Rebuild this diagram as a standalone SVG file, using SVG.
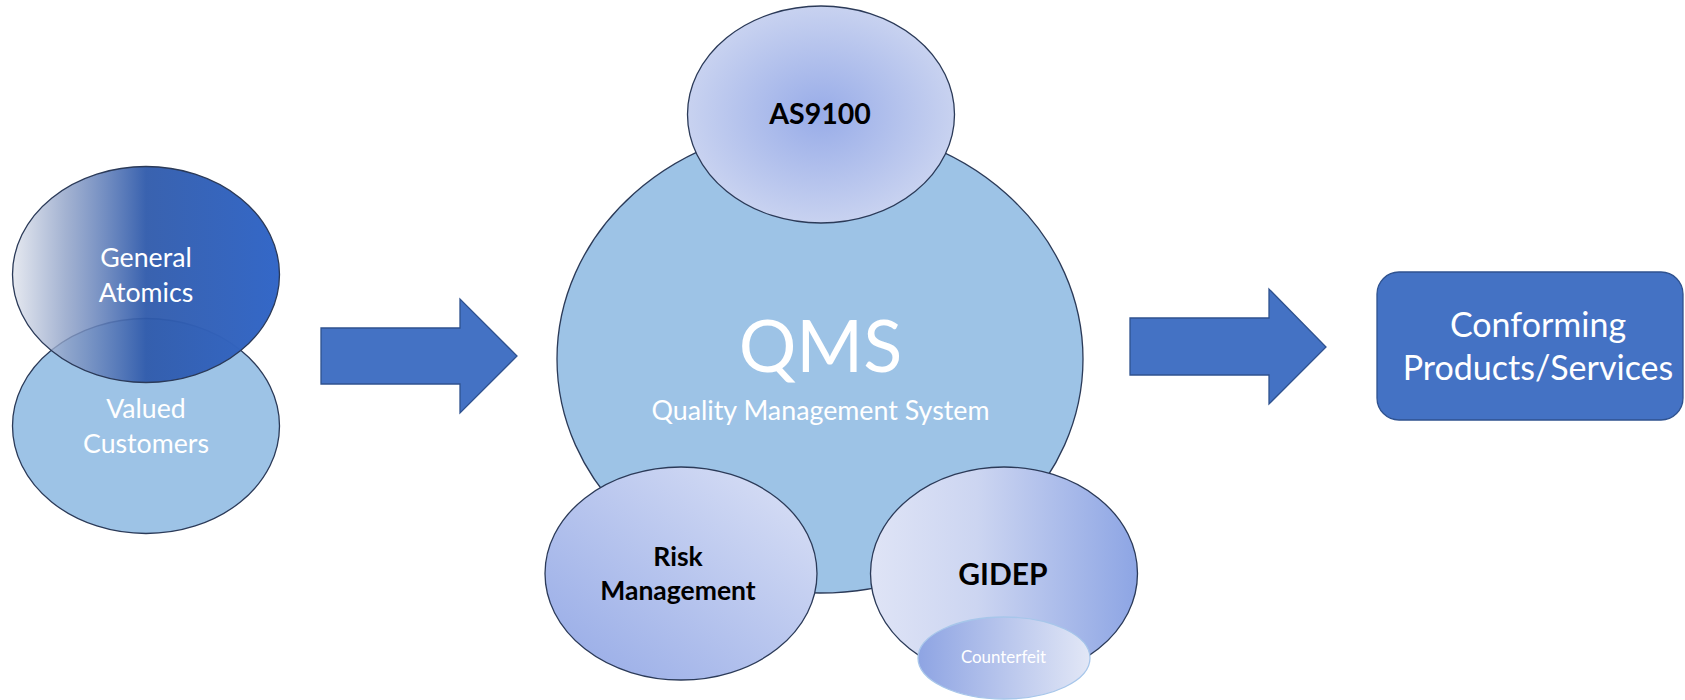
<svg xmlns="http://www.w3.org/2000/svg" width="1685" height="700" viewBox="0 0 1685 700">
<defs>
<linearGradient id="gGA" x1="0" y1="0" x2="1" y2="0">
<stop offset="0" stop-color="#dfe3ec" stop-opacity="0.8"/>
<stop offset="0.2" stop-color="#8c9fc6" stop-opacity="0.8"/>
<stop offset="0.5" stop-color="#2f5aab" stop-opacity="0.95"/>
<stop offset="1" stop-color="#3468c8"/>
</linearGradient>
<radialGradient id="gAS" cx="0.5" cy="0.5" r="0.5">
<stop offset="0" stop-color="#98ace8"/>
<stop offset="1" stop-color="#c8d2f0"/>
</radialGradient>
<linearGradient id="gRisk" x1="0" y1="1" x2="1" y2="0">
<stop offset="0" stop-color="#94a9e6"/>
<stop offset="1" stop-color="#dce2f6"/>
</linearGradient>
<linearGradient id="gGID" x1="0" y1="0" x2="1" y2="0">
<stop offset="0" stop-color="#dfe4f6"/>
<stop offset="0.4" stop-color="#ccd5f1"/>
<stop offset="1" stop-color="#8da5e4"/>
</linearGradient>
<linearGradient id="gCF" x1="0" y1="0" x2="1" y2="0">
<stop offset="0" stop-color="#8ea4e3"/>
<stop offset="1" stop-color="#e2e7f6"/>
</linearGradient>
<style>
.ol{stroke:#2b3a58;stroke-width:1.3}
.arrow{fill:#4472c4;stroke:#2f528f;stroke-width:1.3}
.w{fill:#ffffff;font-family:Lato,"Open Sans",sans-serif;text-anchor:middle}
.b{fill:#000000;font-family:Lato,"Open Sans",sans-serif;font-weight:bold;text-anchor:middle}
</style>
</defs>
<rect width="1685" height="700" fill="#ffffff"/>

<g id="valued-customers">
<ellipse class="ol" cx="146" cy="426" rx="133.5" ry="107.5" fill="#9dc3e6"/>
</g>
<g id="general-atomics">
<ellipse class="ol" cx="146" cy="274.5" rx="133.5" ry="108" fill="url(#gGA)"/>
<text class="w" x="146" y="267" font-size="26.7">General</text>
<text class="w" x="146" y="302" font-size="26.7">Atomics</text>
</g>
<g id="valued-customers-label">
<text class="w" x="146" y="418" font-size="26.7">Valued</text>
<text class="w" x="146" y="453" font-size="26.7">Customers</text>
</g>

<g id="connectors">
<path class="arrow" d="M321,328 H460 V299 L517,356 L460,413 V384 H321 Z"/>
<path class="arrow" d="M1130,318 H1269 V289 L1326,347 L1269,404 V375 H1130 Z"/>
</g>

<g id="qms">
<ellipse class="ol" cx="820" cy="359" rx="263" ry="234" fill="#9dc3e6"/>
<text class="w" x="820.5" y="372" font-size="72">QMS</text>
<text class="w" x="820.5" y="420" font-size="26.8">Quality Management System</text>
</g>

<g id="as9100">
<ellipse class="ol" cx="821" cy="114.5" rx="133.5" ry="108.5" fill="url(#gAS)"/>
<text class="b" x="820" y="124" font-size="28.5">AS9100</text>
</g>

<g id="risk-management">
<ellipse class="ol" cx="681" cy="573.5" rx="136" ry="106.5" fill="url(#gRisk)"/>
<text class="b" x="678" y="566" font-size="26.5">Risk</text>
<text class="b" x="678" y="600" font-size="26.5">Management</text>
</g>

<g id="gidep">
<ellipse class="ol" cx="1004" cy="573.5" rx="133.5" ry="106.5" fill="url(#gGID)"/>
<text class="b" x="1003" y="585" font-size="30">GIDEP</text>
</g>

<g id="counterfeit">
<ellipse cx="1004" cy="658" rx="86" ry="41" fill="url(#gCF)" stroke="#a7c6ea" stroke-width="1.3"/>
<text class="w" x="1003.5" y="663" font-size="16.9">Counterfeit</text>
</g>

<g id="conforming">
<rect x="1377" y="272" width="306" height="148" rx="22" ry="22" fill="#4472c4" stroke="#2f528f" stroke-width="1.3"/>
<text class="w" x="1538" y="337" font-size="34">Conforming</text>
<text class="w" x="1538" y="380" font-size="34">Products/Services</text>
</g>
</svg>
